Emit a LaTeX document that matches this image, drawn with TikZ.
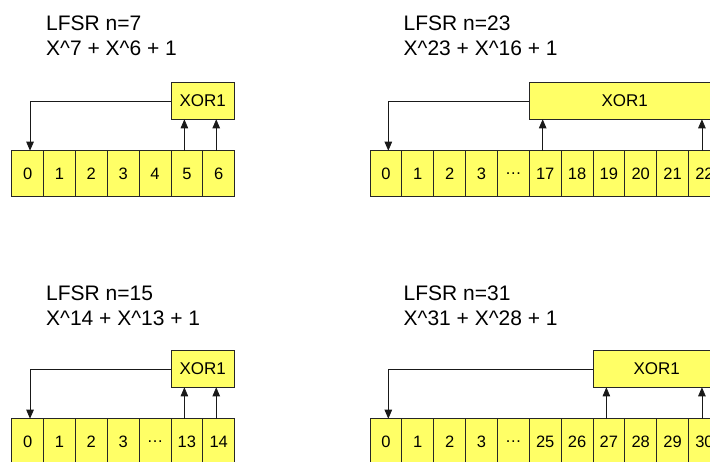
\documentclass[tikz,border=0pt]{standalone}
\usepackage{fontspec}
\setmainfont{Liberation Sans}
\usetikzlibrary{arrows.meta}
\definecolor{regfill}{RGB}{255,255,102}
\tikzset{
  cell/.style={draw=black!85, fill=regfill, line width=0.8pt, inner sep=0pt, outer sep=0pt,
    minimum width=31.85pt, minimum height=45.6pt, anchor=north west, font=\fontsize{16.5}{18}\selectfont},
  xorbox/.style={draw=black!85, fill=regfill, line width=0.8pt, inner sep=0pt, outer sep=0pt,
    minimum height=36.6pt, anchor=north west, font=\fontsize{17}{19}\selectfont},
  title/.style={anchor=base west, inner sep=0pt, font=\fontsize{21}{24}\selectfont},
  tap/.style={line width=0.8pt, draw=black!90, -{Triangle[length=9pt,width=7.5pt]}},
}

\begin{document}
\begin{tikzpicture}[x=1pt,y=-1pt]
  \useasboundingbox (0,0) rectangle (710,461);

  % n=7
  \node[title] (t7a) at (46,30.7) {LFSR n=7};
  \node[title] (t7b) at (46,55) {X\textasciicircum 7 + X\textasciicircum 6 + 1};
  \foreach \t [count=\i from 0] in {0,1,2,3,4,5,6}
    \node[cell] (a\i) at (11.7+\i*31.85,150.7) {\t};
  \node[xorbox, minimum width=63.7pt] (ax) at ([yshift=68pt]a5.north west) {XOR1};
  \draw[tap] (ax.west) -| ([xshift=2.4pt]a0.north);
  \draw[tap] ([xshift=-2.5pt]a5.north) -- ([xshift=-2.5pt]a5.north |- ax.south);
  \draw[tap] ([xshift=-2.5pt]a6.north) -- ([xshift=-2.5pt]a6.north |- ax.south);

  % n=23
  \node[title] (t23a) at (403.5,30.7) {LFSR n=23};
  \node[title] (t23b) at (403.5,55) {X\textasciicircum 23 + X\textasciicircum 16 + 1};
  \foreach \t [count=\i from 0] in {0,1,2,3,\dots,17,18,19,20,21,22}
    \node[cell] (b\i) at (370+\i*31.85,150.7) {\t};
  \node[xorbox, minimum width=191.1pt] (bx) at ([yshift=68pt]b5.north west) {XOR1};
  \draw[tap] (bx.west) -| ([xshift=2.4pt]b0.north);
  \draw[tap] ([xshift=-2.5pt]b5.north) -- ([xshift=-2.5pt]b5.north |- bx.south);
  \draw[tap] ([xshift=-2.5pt]b10.north) -- ([xshift=-2.5pt]b10.north |- bx.south);

  % n=15
  \node[title] (t15a) at (46,300.7) {LFSR n=15};
  \node[title] (t15b) at (46,325) {X\textasciicircum 14 + X\textasciicircum 13 + 1};
  \foreach \t [count=\i from 0] in {0,1,2,3,\dots,13,14}
    \node[cell] (c\i) at (11.7+\i*31.85,418.7) {\t};
  \node[xorbox, minimum width=63.7pt] (cx) at ([yshift=68pt]c5.north west) {XOR1};
  \draw[tap] (cx.west) -| ([xshift=2.4pt]c0.north);
  \draw[tap] ([xshift=-2.5pt]c5.north) -- ([xshift=-2.5pt]c5.north |- cx.south);
  \draw[tap] ([xshift=-2.5pt]c6.north) -- ([xshift=-2.5pt]c6.north |- cx.south);

  % n=31
  \node[title] (t31a) at (403.5,300.7) {LFSR n=31};
  \node[title] (t31b) at (403.5,325) {X\textasciicircum 31 + X\textasciicircum 28 + 1};
  \foreach \t [count=\i from 0] in {0,1,2,3,\dots,25,26,27,28,29,30}
    \node[cell] (d\i) at (370+\i*31.85,418.7) {\t};
  \node[xorbox, minimum width=127.4pt] (dx) at ([yshift=68pt]d7.north west) {XOR1};
  \draw[tap] (dx.west) -| ([xshift=2.4pt]d0.north);
  \draw[tap] ([xshift=-2.5pt]d7.north) -- ([xshift=-2.5pt]d7.north |- dx.south);
  \draw[tap] ([xshift=-2.5pt]d10.north) -- ([xshift=-2.5pt]d10.north |- dx.south);
\end{tikzpicture}
\end{document}
